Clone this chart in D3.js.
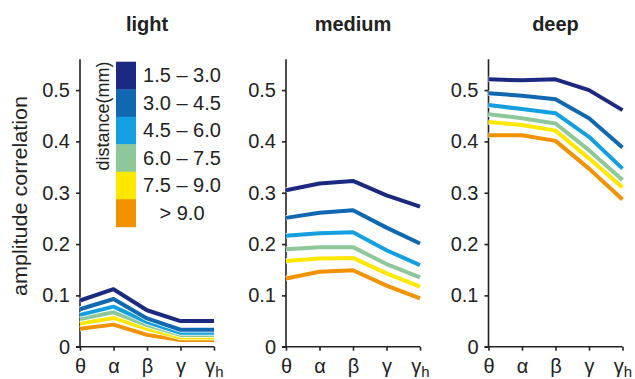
<!DOCTYPE html>
<html><head><meta charset="utf-8">
<script src="https://cdn.jsdelivr.net/npm/d3@7"></script>
<style>body{margin:0;background:#fff}svg{display:block;font-family:"Liberation Sans",Arial,sans-serif}</style>
</head><body><svg id="c" width="635" height="379"></svg>
<script>
const bands = ["θ","α","β","γ","γh"];
const distances = ["1.5 – 3.0","3.0 – 4.5","4.5 – 6.0","6.0 – 7.5","7.5 – 9.0","> 9.0"];
const colors = ["#1b2a80","#0f68b0","#14a0e0","#8dc79a","#ffe800","#f39200"];
const panelTitles = ["light","medium","deep"];
const yTicks = [0,0.1,0.2,0.3,0.4,0.5];
const lightVals = [
  [0.090,0.112,0.071,0.050,0.050],
  [0.073,0.093,0.055,0.033,0.033],
  [0.062,0.078,0.048,0.027,0.027],
  [0.054,0.067,0.042,0.023,0.023],
  [0.045,0.056,0.035,0.018,0.018],
  [0.035,0.043,0.023,0.013,0.013]];
const mediumVals = [
  [0.305,0.318,0.323,0.295,0.273],
  [0.251,0.261,0.266,0.232,0.201],
  [0.216,0.221,0.223,0.188,0.159],
  [0.190,0.194,0.194,0.161,0.135],
  [0.167,0.172,0.173,0.143,0.117],
  [0.133,0.146,0.149,0.119,0.094]];
const deepVals = [
  [0.521,0.519,0.521,0.500,0.461],
  [0.494,0.489,0.482,0.445,0.388],
  [0.471,0.463,0.455,0.409,0.347],
  [0.453,0.445,0.435,0.383,0.325],
  [0.438,0.432,0.421,0.367,0.310],
  [0.412,0.412,0.401,0.347,0.287]];
const panelData = [lightVals, mediumVals, deepVals];

const svg = d3.select("#c");
const ink = "#222";
const font = "Liberation Sans, Arial, sans-serif";
const panelX = [80, 286, 488.5];
const pw = 134;
const y = d3.scaleLinear().domain([0,0.56]).range([346.7,59.3]);

panelData.forEach((vals,pi)=>{
  const g = svg.append("g").attr("transform",`translate(${panelX[pi]},0)`);
  const x = d3.scalePoint().domain(bands).range([0,pw]);
  const ya = g.append("g").call(d3.axisLeft(y).tickValues(yTicks).tickSize(4).tickPadding(6)
      .tickFormat(d=> d===0 ? "0" : d3.format(".1f")(d)));
  ya.select(".domain").attr("d",`M-4,${y(0)}H0V${y(0.56)}`);
  const xa = g.append("g").attr("transform",`translate(0,${y(0)})`)
     .call(d3.axisBottom(x).tickSize(4).tickPadding(8).tickFormat(""));
  xa.select(".domain").attr("d",`M0,0H${pw}`);
  [ya,xa].forEach(a=>{
    a.selectAll(".domain,line").attr("stroke",ink).attr("stroke-width",1.6);
    a.selectAll("text").attr("fill",ink).attr("font-size",20).attr("font-family",font);
  });
  xa.selectAll(".tick").append("text").attr("y",26).attr("text-anchor","middle")
    .attr("fill",ink).attr("font-size",20).attr("font-family",font)
    .each(function(d){
      const t=d3.select(this);
      if(d==="γh"){ t.append("tspan").text("γ"); t.append("tspan").attr("font-size",15).attr("dy",4).text("h"); }
      else t.text(d);
    });
  svg.append("text").attr("x",panelX[pi]+pw/2).attr("y",31).attr("text-anchor","middle")
    .attr("font-weight","bold").attr("font-size",20).attr("fill",ink).text(panelTitles[pi]);
  const line = d3.line().x((d,i)=>x(bands[i])).y(d=>y(d));
  for(let s=vals.length-1;s>=0;s--){
    g.append("path").attr("d",line(vals[s])).attr("fill","none").attr("stroke","#fff").attr("stroke-width",5.5).attr("stroke-linejoin","round");
    g.append("path").attr("d",line(vals[s])).attr("fill","none").attr("stroke",colors[s]).attr("stroke-width",4).attr("stroke-linejoin","round");
  }
});

svg.append("text").attr("transform","translate(27,196) rotate(-90)").attr("text-anchor","middle")
  .attr("font-size",20).attr("fill",ink).attr("textLength",200).attr("lengthAdjust","spacingAndGlyphs")
  .text("amplitude correlation");

const lg = svg.append("g");
const ly = d3.scaleBand().domain(distances).range([61.7,226.7]);
lg.selectAll("rect").data(distances).join("rect")
  .attr("x",116).attr("width",20).attr("y",d=>ly(d)).attr("height",ly.bandwidth()+0.5)
  .attr("fill",(d,i)=>colors[i]);
lg.selectAll("text.l").data(distances).join("text").attr("class","l")
  .attr("x",182).attr("y",d=>ly(d)+ly.bandwidth()/2+7).attr("text-anchor","middle")
  .attr("font-size",20).attr("fill",ink).text(d=>d);
svg.append("text").attr("transform","translate(109,116) rotate(-90)").attr("text-anchor","middle")
  .attr("font-size",18).attr("fill",ink).text("distance(mm)");
</script></body></html>
